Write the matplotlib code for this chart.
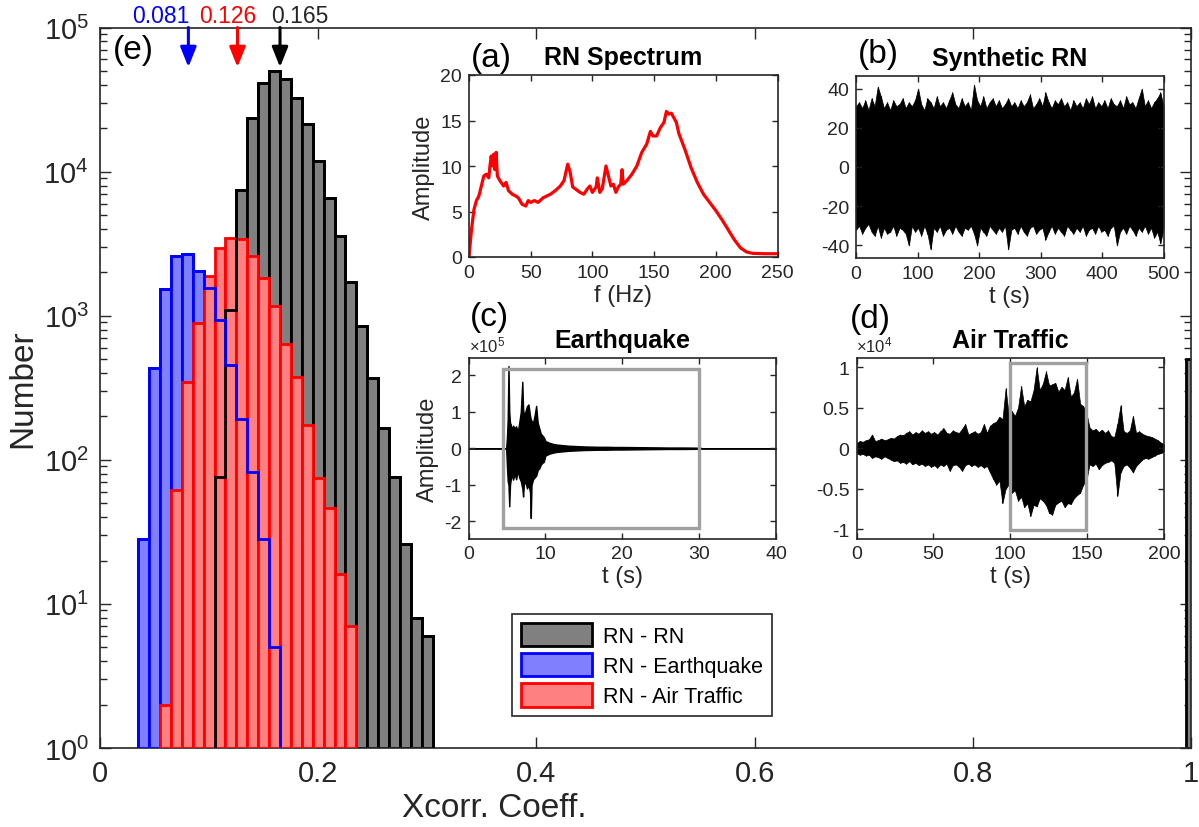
import numpy as np
import matplotlib
matplotlib.use("Agg")
import matplotlib.pyplot as plt
from matplotlib import ticker, transforms
from matplotlib.patches import Patch, Rectangle

plt.rcParams["font.family"] = ["Liberation Sans", "DejaVu Sans"]
plt.rcParams["mathtext.fontset"] = "custom"
plt.rcParams["mathtext.rm"] = "Liberation Sans"
plt.rcParams["mathtext.it"] = "Liberation Sans:italic"
plt.rcParams["axes.unicode_minus"] = False

AXC = "#262626"

# ---------------- histogram data (bin width 0.01, values = counts) ----------------
BIN_W = 0.01
rn_rn_centers = [0.11, 0.12, 0.13, 0.14, 0.15, 0.16, 0.17, 0.18, 0.19, 0.20,
                 0.21, 0.22, 0.23, 0.24, 0.25, 0.26, 0.27, 0.28, 0.29, 0.30]
rn_rn_counts = [76, 1100, 7440, 23650, 41300, 49800, 44100, 32500, 21250, 11800,
                6590, 3550, 1700, 850, 368, 167, 76, 26, 8, 6]
rn_self_center = 1.00
rn_self_count = 500

rn_eq_centers = [0.04, 0.05, 0.06, 0.07, 0.08, 0.09, 0.10, 0.11, 0.12, 0.13,
                 0.14, 0.15, 0.16]
rn_eq_counts = [28, 437, 1542, 2594, 2667, 2043, 1549, 929, 455, 191, 82, 28, 5]

rn_air_centers = [0.06, 0.07, 0.08, 0.09, 0.10, 0.11, 0.12, 0.13, 0.14, 0.15,
                  0.16, 0.17, 0.18, 0.19, 0.20, 0.21, 0.22, 0.23]
rn_air_counts = [2, 62, 347, 896, 1884, 2932, 3477, 3388, 2594, 1816,
                 1167, 640, 378, 174, 75, 46, 16, 7]

mean_values = [0.081, 0.126, 0.165]
mean_colors = ["#0000FF", "#FF0000", "#000000"]
legend_labels = ["RN - RN", "RN - Earthquake", "RN - Air Traffic"]

# ---------------- inset (a): RN amplitude spectrum ----------------
spec_f = [0, 2, 4, 6, 8, 10, 12, 14, 16, 17, 18, 19, 20, 21, 22, 23, 25, 28, 30, 32,
          35, 38, 40, 43, 46, 48, 50, 53, 56, 60, 63, 66, 70, 74, 77, 80, 82, 84, 86, 90,
          93, 96, 98, 100, 103, 104, 106, 108, 111, 113, 115, 117, 119, 121, 123, 124, 125, 128, 132, 136,
          140, 144, 147, 149, 152, 155, 158, 160, 162, 164, 166, 168, 170, 175, 180, 185, 190, 195, 200, 205,
          210, 215, 220, 225, 230, 240, 250]
spec_amp = [0.0, 3.0, 5.2, 6.2, 6.7, 7.8, 8.9, 9.1, 8.7, 10.0, 11.1, 10.0, 11.3, 9.6, 11.5, 8.9, 8.4, 7.8, 8.2, 7.3,
            6.9, 6.7, 6.5, 5.8, 5.6, 6.2, 6.0, 6.2, 6.0, 6.5, 6.7, 6.9, 7.3, 7.8, 8.4, 10.2, 9.3, 7.7, 7.5, 7.1,
            6.9, 7.5, 7.8, 7.1, 7.7, 8.7, 7.1, 7.5, 10.0, 8.9, 7.8, 8.0, 7.1, 7.7, 8.0, 9.6, 8.0, 8.4, 9.1, 10.0,
            11.5, 12.4, 13.8, 13.3, 13.3, 14.2, 14.8, 16.0, 15.7, 15.8, 15.3, 14.8, 13.6, 11.8, 9.8, 8.2, 6.9, 6.0, 5.1, 4.1,
            3.0, 1.9, 1.0, 0.55, 0.4, 0.36, 0.36]

# ---------------- inset (b): synthetic RN envelope (500 s) ----------------
syn_hi = [31, 33, 30, 34, 29, 35, 31, 41, 36, 30, 33, 29, 34, 31, 32, 35, 30, 33, 31, 34,
          40, 32, 29, 35, 33, 30, 36, 31, 33, 30, 34, 38, 32, 30, 35, 31, 33, 29, 42, 34,
          31, 36, 30, 33, 35, 31, 34, 30, 32, 35, 31, 33, 30, 34, 31, 33, 37, 30, 32, 35,
          31, 38, 33, 30, 34, 32, 35, 31, 33, 29, 34, 31, 33, 30, 35, 32, 36, 30, 33, 31,
          34, 30, 35, 32, 31, 34, 30, 36, 32, 33, 30, 35, 40, 31, 34, 30, 33, 35, 38, 31]
syn_lo = [-32, -30, -34, -31, -29, -33, -35, -30, -36, -31, -34, -33, -30, -35, -31, -32, -34, -40, -30, -33,
          -31, -35, -30, -34, -42, -31, -33, -30, -35, -32, -31, -34, -30, -33, -35, -31, -32, -30, -34, -40,
          -31, -33, -35, -30, -32, -34, -31, -33, -30, -42, -32, -31, -34, -30, -33, -35, -31, -30, -34, -32,
          -31, -37, -33, -30, -34, -31, -33, -35, -30, -32, -34, -31, -33, -30, -35, -32, -31, -34, -30, -33,
          -32, -35, -31, -30, -40, -33, -31, -34, -30, -32, -35, -31, -33, -30, -34, -31, -36, -33, -39, -31]
SYN_DURATION = 500

# ---------------- inset (c): earthquake envelope, units of 1e5 ----------------
EQ_SCALE = 1e5
eq_time = [0, 4.9, 5.0, 5.1, 5.2, 5.3, 5.4, 5.5, 5.6, 5.8, 6.0, 6.2, 6.4, 6.6, 6.8, 7.0, 7.1, 7.2, 7.4, 7.6,
           7.8, 8.0, 8.1, 8.2, 8.4, 8.6, 8.8, 9.0, 9.2, 9.4, 9.6, 9.8, 10.0, 10.5, 11, 11.5, 12, 13, 14, 15,
           16, 17, 18, 19, 20, 22, 24, 26, 28, 30, 30.5, 40]
eq_hi = [0, 0, 0.3, 0.8, 2.25, 1.0, 0.7, 0.65, 0.5, 0.62, 0.55, 0.6, 0.45, 0.7, 1.0, 1.82, 1.1, 0.9, 1.0, 1.15,
         1.2, 0.9, 0.8, 0.75, 0.7, 0.9, 1.16, 0.7, 0.55, 0.4, 0.35, 0.3, 0.2, 0.15, 0.12, 0.1, 0.09, 0.07, 0.06, 0.05,
         0.045, 0.04, 0.04, 0.035, 0.035, 0.03, 0.025, 0.02, 0.02, 0.015, 0, 0]
eq_lo = [0, 0, -0.5, -0.9, -1.0, -1.59, -1.0, -0.85, -0.7, -0.86, -0.7, -0.85, -0.6, -0.8, -0.9, -1.1, -1.32, -1.0, -0.9, -1.1,
         -1.0, -1.2, -1.91, -1.0, -0.85, -0.8, -0.75, -0.6, -0.55, -0.45, -0.4, -0.37, -0.2, -0.15, -0.12, -0.1, -0.09, -0.07, -0.06, -0.05,
         -0.045, -0.04, -0.04, -0.035, -0.035, -0.03, -0.025, -0.02, -0.02, -0.015, 0, 0]
eq_window = (4.5, 30.0)

# ---------------- inset (d): air-traffic envelope, units of 1e4 ----------------
AIR_SCALE = 1e4
air_hi = [0.06, 0.09, 0.08, 0.10, 0.11, 0.17, 0.09, 0.10, 0.12, 0.10,
          0.11, 0.13, 0.12, 0.15, 0.17, 0.16, 0.19, 0.21, 0.17, 0.20,
          0.18, 0.22, 0.19, 0.21, 0.18, 0.20, 0.17, 0.21, 0.25, 0.19,
          0.18, 0.22, 0.20, 0.19, 0.24, 0.30, 0.17, 0.19, 0.21, 0.18,
          0.20, 0.30, 0.19, 0.28, 0.31, 0.33, 0.39, 0.36, 0.74, 0.42,
          0.46, 0.40, 0.50, 0.77, 0.52, 0.60, 0.58, 0.72, 1.00, 0.72,
          0.80, 0.95, 0.78, 0.79, 0.81, 0.70, 0.76, 0.72, 0.88, 0.64,
          0.69, 0.86, 0.55, 0.52, 0.44, 0.26, 0.22, 0.24, 0.20, 0.23,
          0.19, 0.22, 0.15, 0.14, 0.30, 0.53, 0.21, 0.19, 0.22, 0.40,
          0.19, 0.21, 0.18, 0.16, 0.15, 0.14, 0.12, 0.10, 0.07, 0.05]
air_lo = [-0.06, -0.08, -0.07, -0.09, -0.08, -0.12, -0.10, -0.11, -0.13, -0.10,
          -0.12, -0.14, -0.16, -0.15, -0.18, -0.17, -0.19, -0.16, -0.20, -0.18,
          -0.21, -0.19, -0.22, -0.20, -0.23, -0.21, -0.24, -0.20, -0.22, -0.19,
          -0.28, -0.21, -0.20, -0.23, -0.28, -0.21, -0.19, -0.22, -0.20, -0.23,
          -0.21, -0.24, -0.22, -0.30, -0.38, -0.45, -0.40, -0.68, -0.50, -0.45,
          -0.55, -0.52, -0.65, -0.60, -0.73, -0.68, -0.84, -0.70, -0.72, -0.62,
          -0.65, -0.70, -0.80, -0.82, -0.70, -0.67, -0.65, -0.73, -0.68, -0.69,
          -0.62, -0.58, -0.55, -0.45, -0.40, -0.20, -0.22, -0.19, -0.26, -0.21,
          -0.18, -0.17, -0.15, -0.18, -0.59, -0.30, -0.22, -0.20, -0.24, -0.30,
          -0.22, -0.18, -0.14, -0.12, -0.13, -0.11, -0.09, -0.07, -0.06, -0.04]
AIR_DURATION = 200
air_window = (100.0, 149.0)


def fig_rect(left, top, right, bottom, W=1199, H=828):
    return [left / W, 1 - bottom / H, (right - left) / W, (bottom - top) / H]


fig = plt.figure(figsize=(11.99, 8.28), dpi=100)

# ================= main histogram axes =================
MAIN_L, MAIN_R, MAIN_T, MAIN_B = 100, 1191, 28.5, 749
ax = fig.add_axes(fig_rect(MAIN_L, MAIN_T, MAIN_R, MAIN_B))
ax.set_yscale("log")
BASE = 1.0


def bars(centers, counts, face, edge, z):
    c = np.asarray(counts, dtype=float)
    ax.bar(centers, c - BASE, width=BIN_W, bottom=BASE, color=face,
           edgecolor=edge, linewidth=2, zorder=z)


bars(rn_rn_centers, rn_rn_counts, "#808080", "#000000", 2)
bars([rn_self_center], [rn_self_count], "#808080", "#000000", 2)
bars(rn_eq_centers, rn_eq_counts, "#8080FF", "#0000FF", 3)
bars(rn_air_centers, rn_air_counts, "#FF8080", "#FF0000", 4)


# outer outlines of the RN-RN and RN-Earthquake histograms stay visible
def outline(centers, counts, color, z):
    c = np.asarray(centers)
    edges = np.append(c - BIN_W / 2, c[-1] + BIN_W / 2)
    ax.stairs(counts, edges, baseline=BASE, color=color, linewidth=2, zorder=z)


outline(rn_rn_centers, rn_rn_counts, "#000000", 5)
outline(rn_eq_centers, rn_eq_counts, "#0000FF", 6)

ax.set_xlim(0, 1)
ax.set_ylim(1, 1e5)
ax.xaxis.set_major_locator(ticker.MultipleLocator(0.2))
ax.xaxis.set_major_formatter(ticker.FuncFormatter(lambda v, p: f"{v:g}"))
ax.yaxis.set_major_locator(ticker.LogLocator(base=10, numticks=10))
ax.yaxis.set_minor_locator(ticker.LogLocator(base=10, subs=np.arange(2, 10), numticks=20))
ax.yaxis.set_minor_formatter(ticker.NullFormatter())
ax.tick_params(which="major", direction="in", length=8, width=1, top=True, right=True,
               labelsize=21, colors=AXC, pad=8)
ax.tick_params(which="minor", direction="in", length=5, width=1, top=True, right=True, colors=AXC)
for s in ax.spines.values():
    s.set_linewidth(1.2)
    s.set_color(AXC)
ax.set_xlabel("Xcorr. Coeff.", fontsize=24, color=AXC)
ax.xaxis.set_label_coords((494 - MAIN_L) / (MAIN_R - MAIN_L),
                          -(793 - MAIN_B) / (MAIN_B - MAIN_T))
ax.set_ylabel("Number", fontsize=24, color=AXC, labelpad=4)

# mean markers above the histogram
bt = transforms.blended_transform_factory(ax.transData, ax.transAxes)
for v, c in zip(mean_values, mean_colors):
    ax.annotate("", xy=(v, 0.945), xycoords=bt, xytext=(v, 1.0), textcoords=bt,
                arrowprops=dict(arrowstyle="-|>,head_length=0.55,head_width=0.22",
                                color=c, lw=2.2, shrinkA=0, shrinkB=0, mutation_scale=22),
                annotation_clip=False, zorder=8)
text_pos = [(0.0821, "right"), (0.117, "center"), (0.1566, "left")]
for (xp, ha), v, c in zip(text_pos, mean_values, mean_colors):
    col = "#262626" if c == "#000000" else c
    ax.text(xp, 1.008, f"{v:.3f}", transform=bt, ha=ha, va="baseline",
            fontsize=16.5, color=col)

fig.text(133 / 1199, 1 - 51 / 828, "(e)", fontsize=24, ha="center", va="center", color="#000000")

leg_handles = [Patch(facecolor="#808080", edgecolor="#000000", linewidth=2),
               Patch(facecolor="#8080FF", edgecolor="#0000FF", linewidth=2),
               Patch(facecolor="#FF8080", edgecolor="#FF0000", linewidth=2)]
leg = ax.legend(leg_handles, legend_labels, loc="upper left",
                bbox_to_anchor=(512 / 1199, 1 - 615 / 828), bbox_transform=fig.transFigure,
                borderaxespad=0, fontsize=15.5, handlelength=3.3, handleheight=1.3,
                handletextpad=0.55, labelspacing=0.3, borderpad=0.4,
                fancybox=False, framealpha=1, edgecolor=AXC)
leg.get_frame().set_linewidth(1.2)
leg.set_zorder(10)


def style_inset(a):
    a.set_facecolor("white")
    a.tick_params(direction="in", length=4, width=1, top=True, right=True,
                  labelsize=14, colors=AXC, pad=5)
    for s in a.spines.values():
        s.set_linewidth(1.2)
        s.set_color(AXC)


def panel_tag(x, y, s):
    fig.text(x / 1199, 1 - y / 828, s, fontsize=24, ha="center", va="center", color="#000000")


# ================= (a) RN spectrum =================
axa = fig.add_axes(fig_rect(469, 76, 777.5, 258))
style_inset(axa)
axa.plot(spec_f, spec_amp, color="#FF0000", lw=2.3)
axa.set_xlim(0, 250)
axa.set_ylim(0, 20)
axa.xaxis.set_major_locator(ticker.MultipleLocator(50))
axa.yaxis.set_major_locator(ticker.MultipleLocator(5))
axa.set_title("RN Spectrum", fontsize=18, fontweight="bold", pad=8)
axa.set_xlabel("f (Hz)", fontsize=17, color=AXC, labelpad=2)
axa.set_ylabel("Amplitude", fontsize=17, color=AXC, labelpad=4)
panel_tag(491.7, 58, "(a)")

# ================= (b) synthetic RN =================
axb = fig.add_axes(fig_rect(856, 77, 1163.5, 259))
style_inset(axb)
t_syn = np.linspace(0, SYN_DURATION, len(syn_hi))
axb.fill_between(t_syn, syn_lo, syn_hi, color="#000000", lw=0.5)
axb.vlines(t_syn, syn_lo, syn_hi, color="#000000", lw=0.8)
axb.set_xlim(0, 500)
axb.set_ylim(-46.4, 46.4)
axb.xaxis.set_major_locator(ticker.MultipleLocator(100))
axb.yaxis.set_major_locator(ticker.MultipleLocator(20))
axb.set_title("Synthetic RN", fontsize=18, fontweight="bold", pad=8)
axb.set_xlabel("t (s)", fontsize=17, color=AXC, labelpad=2)
panel_tag(878.5, 55, "(b)")

# ================= (c) earthquake =================
axc = fig.add_axes(fig_rect(468.5, 359, 776, 539.5))
style_inset(axc)
eh = np.asarray(eq_hi) * EQ_SCALE
el = np.asarray(eq_lo) * EQ_SCALE
axc.fill_between(eq_time, el, eh, color="#000000", lw=1.0)
axc.add_patch(Rectangle((eq_window[0], -2.18 * EQ_SCALE), eq_window[1] - eq_window[0],
                        4.36 * EQ_SCALE, fill=False, edgecolor="#A0A0A0", lw=2.4, zorder=5))
axc.set_xlim(0, 40)
axc.set_ylim(-2.47 * EQ_SCALE, 2.47 * EQ_SCALE)
axc.xaxis.set_major_locator(ticker.MultipleLocator(10))
axc.yaxis.set_major_locator(ticker.MultipleLocator(EQ_SCALE))
axc.yaxis.set_major_formatter(ticker.FuncFormatter(lambda v, p: f"{v / EQ_SCALE:g}"))
axc.text(0.0, 1.02, r"$\times10^{5}$", transform=axc.transAxes, ha="left", va="bottom",
         fontsize=12, color=AXC)
axc.set_title("Earthquake", fontsize=18, fontweight="bold", pad=8)
axc.set_xlabel("t (s)", fontsize=17, color=AXC, labelpad=2)
axc.set_ylabel("Amplitude", fontsize=17, color=AXC, labelpad=4)
panel_tag(489, 318, "(c)")

# ================= (d) air traffic =================
axd = fig.add_axes(fig_rect(856.5, 359, 1164, 539.5))
style_inset(axd)
t_air = np.linspace(0, AIR_DURATION, len(air_hi))
axd.fill_between(t_air, np.asarray(air_lo) * AIR_SCALE, np.asarray(air_hi) * AIR_SCALE,
                 color="#000000", lw=0.5)
axd.vlines(t_air, np.asarray(air_lo) * AIR_SCALE, np.asarray(air_hi) * AIR_SCALE,
           color="#000000", lw=0.8)
axd.add_patch(Rectangle((air_window[0], -1.01 * AIR_SCALE), air_window[1] - air_window[0],
                        2.07 * AIR_SCALE, fill=False, edgecolor="#A0A0A0", lw=2.4, zorder=5))
axd.set_xlim(0, 200)
axd.set_ylim(-1.117 * AIR_SCALE, 1.117 * AIR_SCALE)
axd.xaxis.set_major_locator(ticker.MultipleLocator(50))
axd.yaxis.set_major_locator(ticker.MultipleLocator(0.5 * AIR_SCALE))
axd.yaxis.set_major_formatter(ticker.FuncFormatter(lambda v, p: f"{v / AIR_SCALE:g}"))
axd.text(0.0, 1.02, r"$\times10^{4}$", transform=axd.transAxes, ha="left", va="bottom",
         fontsize=12, color=AXC)
axd.set_title("Air Traffic", fontsize=18, fontweight="bold", pad=8)
axd.set_xlabel("t (s)", fontsize=17, color=AXC, labelpad=2)
panel_tag(870.7, 320, "(d)")

fig.savefig("out.png", dpi=100)
